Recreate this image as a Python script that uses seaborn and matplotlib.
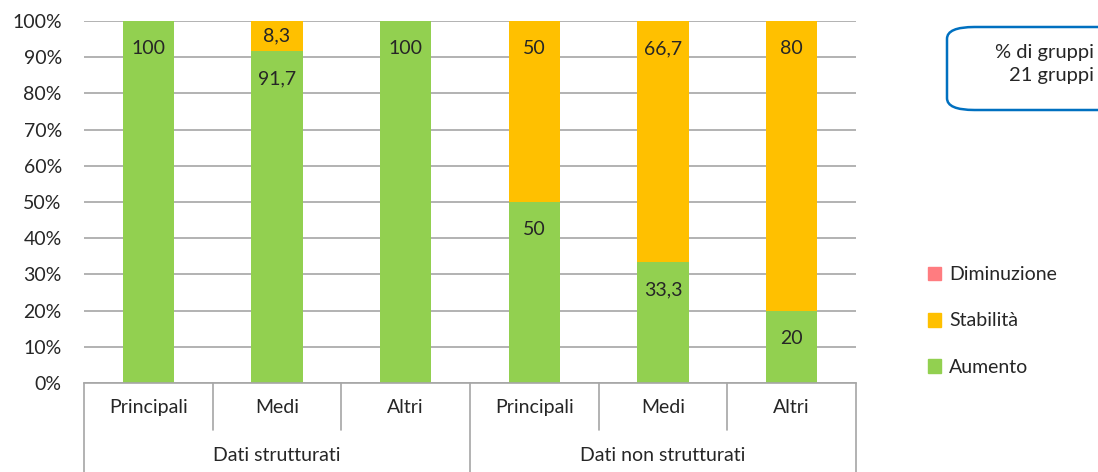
import numpy as np
import pandas as pd
import matplotlib
matplotlib.use("Agg")
import matplotlib.pyplot as plt
import matplotlib.transforms as mtransforms
from matplotlib.patches import FancyBboxPatch, Patch
import seaborn as sns

# data
groups = ["Dati strutturati", "Dati non strutturati"]
subcats = ["Principali", "Medi", "Altri"]
aumento = [100, 91.7, 100, 50, 33.3, 20]
stabilita = [0, 8.3, 0, 50, 66.7, 80]
diminuzione = [0, 0, 0, 0, 0, 0]
series_names = ["Diminuzione", "Stabilità", "Aumento"]

green = "#92D050"
orange = "#FFC000"
pink = "#FF7C80"
grid_col = "#A6A6A6"
FS = 14

sns.set_style("white")
plt.rcParams['font.family'] = ['Lato', 'DejaVu Sans']

labels = [f"{g}|{s}" for g in groups for s in subcats]
df = pd.DataFrame({"cat": labels, "Aumento": aumento, "Stabilita": stabilita,
                   "Diminuzione": diminuzione})
df["top_stab"] = df["Aumento"] + df["Stabilita"]
df["top_dim"] = df["top_stab"] + df["Diminuzione"]

fig = plt.figure(figsize=(10.98, 4.72), dpi=100)
ax = fig.add_axes([84 / 1098, 1 - 383 / 472, (856 - 84) / 1098, (383 - 21) / 472])

# stacked: draw cumulative tops first, lower series over them
sns.barplot(data=df, x="cat", y="top_dim", color=pink, width=0.4, saturation=1,
            ax=ax, zorder=2)
sns.barplot(data=df, x="cat", y="top_stab", color=orange, width=0.4, saturation=1,
            ax=ax, zorder=2)
sns.barplot(data=df, x="cat", y="Aumento", color=green, width=0.4, saturation=1,
            ax=ax, zorder=2)
for p in ax.patches:
    p.set_linewidth(0)

def fmt(v):
    s = f"{v:.1f}".replace(".", ",")
    return s[:-2] if s.endswith(",0") else s

# labels placed "inside end" of each segment
inset = 7.6
for i in range(len(df)):
    a, s = aumento[i], stabilita[i]
    if a > 0:
        ax.text(i, a - min(inset, a / 2), fmt(a), ha="center", va="center",
                fontsize=FS, zorder=3)
    if s > 0:
        ax.text(i, a + s - min(inset, s / 2), fmt(s), ha="center", va="center",
                fontsize=FS, zorder=3)

ax.set_ylim(0, 100)
ax.set_xlim(-0.5, len(df) - 0.5)
ax.set_yticks(np.arange(0, 101, 10))
ax.set_yticklabels([f"{t}%" for t in range(0, 101, 10)], fontsize=FS)
ax.tick_params(axis="y", length=0, pad=16)
ax.yaxis.grid(True, color=grid_col, lw=1.2, zorder=0)
ax.set_axisbelow(True)
ax.set_xticks([])
ax.set_xlabel("")
ax.set_ylabel("")
for sp in ["left", "right", "top"]:
    ax.spines[sp].set_visible(False)
ax.spines["bottom"].set_color(grid_col)
ax.spines["bottom"].set_linewidth(1.2)

# multi-level category axis
trans = mtransforms.blended_transform_factory(ax.transData, ax.transAxes)
n = len(df)
for k in range(n + 1):
    xb = k - 0.5
    long = (k % len(subcats) == 0)
    y0 = -0.246 if long else -0.13
    ax.plot([xb, xb], [0, y0], transform=trans, color=grid_col, lw=1.2, clip_on=False)
for i, lab in enumerate(labels):
    ax.text(i, -0.069, lab.split("|")[1], transform=trans, ha="center", va="center",
            fontsize=FS)
for g, name in enumerate(groups):
    xc = g * len(subcats) + (len(subcats) - 1) / 2
    ax.text(xc, -0.199, name, transform=trans, ha="center", va="center", fontsize=FS)

# legend
handles = [Patch(color=pink), Patch(color=orange), Patch(color=green)]
fig.legend(handles, series_names, loc="center left",
           bbox_to_anchor=(910 / 1098, 1 - 321 / 472), frameon=False, fontsize=FS,
           handlelength=0.7, handleheight=0.7, handletextpad=0.4, labelspacing=1.5)

# note box
box = FancyBboxPatch((947 / 1098, 1 - 110 / 472), 200 / 1098, 83 / 472,
                     boxstyle="round,pad=0,rounding_size=0.025",
                     transform=fig.transFigure, fc="white", ec="#0070C0", lw=1.8)
fig.add_artist(box)
fig.text(1094 / 1098, 1 - 64 / 472, "% di gruppi\n21 gruppi", ha="right", va="center",
         fontsize=FS + 0.5, linespacing=1.45)

fig.savefig("out.png", dpi=100)
